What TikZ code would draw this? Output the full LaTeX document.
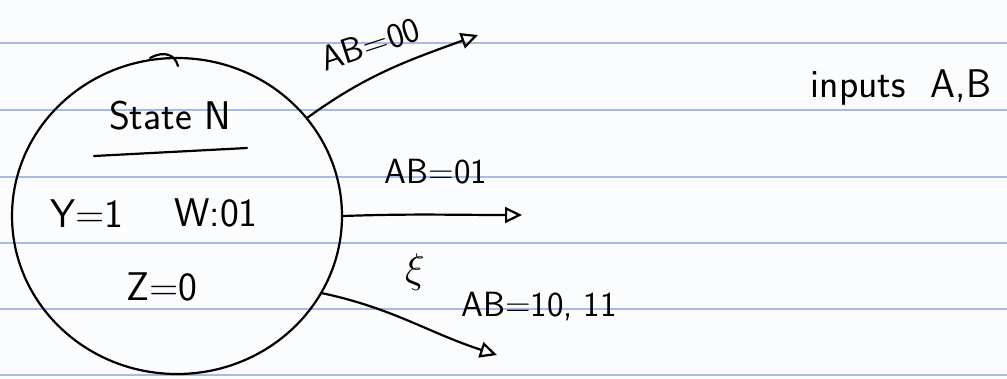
\documentclass[tikz,border=0pt]{standalone}
\usetikzlibrary{shapes.geometric, arrows.meta}

\begin{document}
\begin{tikzpicture}[x=1pt, y=-1pt, line width=2.2pt, line cap=round,
    font=\sffamily\fontsize{40}{46}\selectfont,
    rule/.style={line width=1.4pt, color={rgb,255:red,168;green,186;blue,222}},
    trans/.style={-{Triangle[open, length=17pt, width=16pt, line width=2.2pt]}},
    lbl/.style={inner sep=0pt},
    cond/.style={inner sep=0pt, font=\sffamily\fontsize{35}{40}\selectfont}]
  \useasboundingbox[fill={rgb,255:red,251;green,252;blue,254}] (0,0) rectangle (1007,378);
  \foreach \y in {43, 110, 177, 243, 309, 375}
    \draw[rule] (0,\y) -- (1007,\y);
  \node[draw, ellipse, minimum width=330pt, minimum height=316pt, inner sep=0pt] (stateN) at (177,216) {};
  \draw (150,58) .. controls (165,50) and (175,55) .. (178,66);
  \node[lbl] (title) at (170,116) {State N};
  \draw (94,156) -- (247,148);
  \node[lbl] (outY) at (87,214) {Y=1};
  \node[lbl] (outW) at (216,213) {W:01};
  \node[lbl] (outZ) at (162,287) {Z=0};
  \coordinate (endA) at (478,35);
  \coordinate (endB) at (522,215);
  \coordinate (endC) at (497,355);
  \draw[trans] (stateN.37) to[out=36, in=200] (endA);
  \draw[trans] (stateN.0) to[out=2, in=180] (endB);
  \draw[trans] (stateN.-28) to[out=-12, in=162] (endC);
  \node[cond, rotate=18] (lblA) at (370,44) {AB=00};
  \node[cond] (lblB) at (436,172) {AB=01};
  \node[cond] (lblC) at (539,307) {AB=10, 11};
  \node[lbl, font=\fontsize{20}{24}\selectfont, scale=2] (dots) at (415,272) {$\xi$};
  \node[lbl] (inputs) at (901,88) {inputs\ \ A,B};
\end{tikzpicture}
\end{document}
